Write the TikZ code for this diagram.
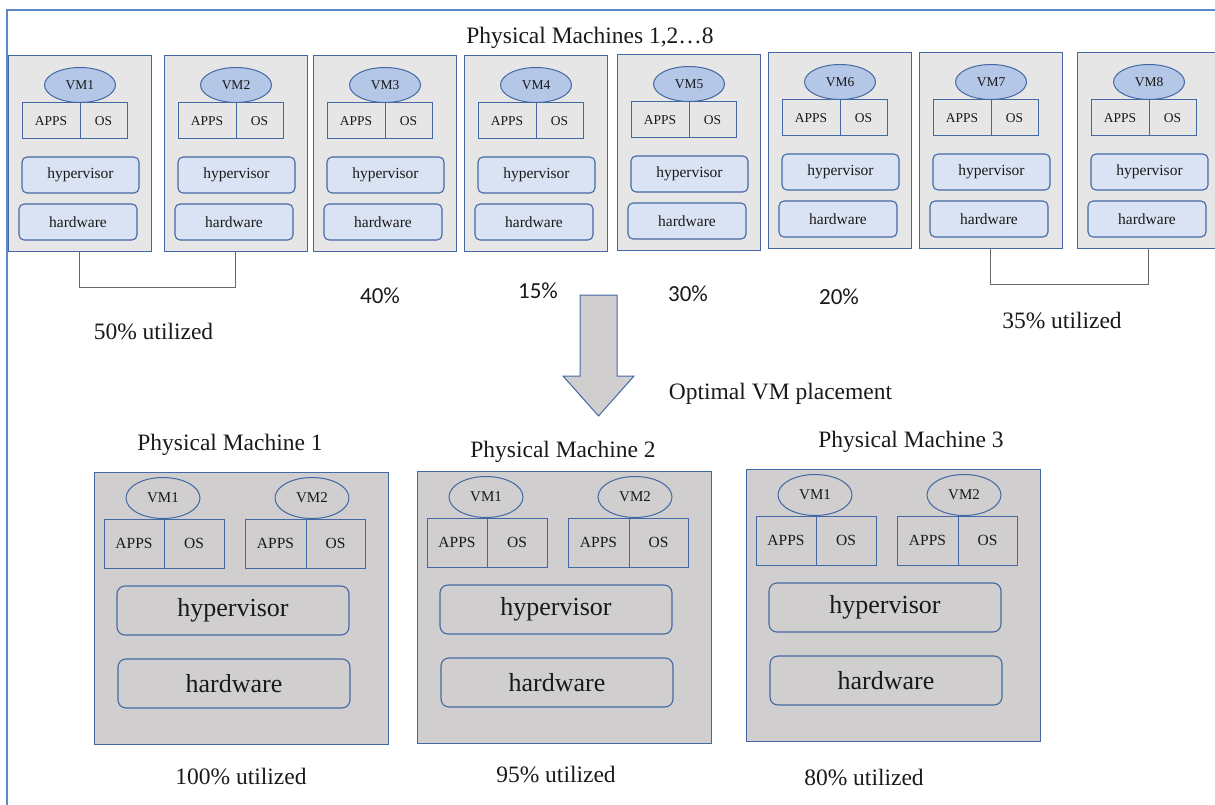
\documentclass[tikz,border=0pt]{standalone}
\usepackage{fontspec}
\setmainfont{Liberation Serif}
\newfontfamily\pctfont{Carlito}
\usetikzlibrary{calc,shapes.geometric}

\definecolor{frameblue}{RGB}{91,138,204}
\definecolor{edgeblue}{RGB}{68,104,164}
\definecolor{panelgray}{RGB}{231,230,230}
\definecolor{darkpanel}{RGB}{208,206,206}
\definecolor{layerfill}{RGB}{218,227,243}
\definecolor{vmfill}{RGB}{180,199,231}
\definecolor{linkgray}{RGB}{105,105,105}
\definecolor{inkblack}{RGB}{25,25,25}

\tikzset{
  every node/.style={inner sep=0pt, outer sep=0pt, text=inkblack},
  % small machines of the upper row
  toppanel/.style={draw=edgeblue, fill=panelgray, line width=1pt,
    minimum width=143pt, minimum height=195pt, anchor=north west},
  smallvm/.style={ellipse, draw=edgeblue, fill=vmfill, line width=1pt,
    minimum width=71pt, minimum height=35pt, font=\fontsize{13.5}{14}\selectfont},
  smallcell/.style={draw=edgeblue, fill=panelgray, line width=1pt,
    minimum height=36pt, font=\fontsize{13.5}{14}\selectfont},
  smalllayer/.style={draw=edgeblue, fill=layerfill, line width=1.1pt,
    rounded corners=5pt, minimum height=36pt, font=\fontsize{15.5}{16}\selectfont},
  % consolidated machines of the lower row
  bigpanel/.style={draw=edgeblue, fill=darkpanel, line width=1pt,
    minimum width=294pt, minimum height=272pt, anchor=north west},
  bigvm/.style={ellipse, draw=edgeblue, line width=1pt,
    minimum width=74pt, minimum height=41pt, font=\fontsize{15}{16}\selectfont},
  bigcell/.style={draw=edgeblue, line width=1pt,
    minimum height=49pt, font=\fontsize{15.5}{16}\selectfont},
  biglayer/.style={draw=edgeblue, line width=1.1pt, rounded corners=8pt,
    minimum width=232pt, minimum height=49pt, font=\fontsize{26}{28}\selectfont},
  caption/.style={font=\fontsize{23.5}{26}\selectfont},
  pct/.style={font=\pctfont\fontsize{23}{25}\selectfont},
  bracket/.style={draw=linkgray, line width=0.9pt},
  bigarrow/.style={draw=edgeblue, fill=darkpanel, line width=1pt, line join=miter},
  frame/.style={draw=frameblue, line width=2pt}
}

% one machine of the upper row: name, left, top, VM label
\newcommand\toppm[4]{%
  \begin{scope}[shift={(#2,#3)}]
    \node[toppanel] (#1) at (0,0) {};
    \node[smallcell, minimum width=58pt] (#1apps) at (43,65) {APPS};
    \node[smallcell, minimum width=47pt] (#1os) at (95.5,65) {OS};
    \node[smallvm] (#1vm) at (72,29) {#4};
    \node[smalllayer, minimum width=117pt] (#1hyp) at (72.5,119) {hypervisor};
    \node[smalllayer, minimum width=118pt] (#1hw) at (70,166) {hardware};
  \end{scope}}

% one machine of the lower row: name, left, top
\newcommand\bigpm[3]{%
  \begin{scope}[shift={(#2,#3)}]
    \node[bigpanel] (#1) at (0,0) {};
    \node[bigcell, minimum width=60pt] (#1appsA) at (40,71.5) {APPS};
    \node[bigcell, minimum width=60pt] (#1osA) at (100,71.5) {OS};
    \node[bigcell, minimum width=61pt] (#1appsB) at (181.5,71.5) {APPS};
    \node[bigcell, minimum width=59pt] (#1osB) at (241.5,71.5) {OS};
    \node[bigvm] (#1vmA) at (69,26) {VM1};
    \node[bigvm] (#1vmB) at (218,26) {VM2};
    \node[biglayer] (#1hyp) at (139,138.5) {hypervisor};
    \node[biglayer] (#1hw) at (140,211.5) {hardware};
  \end{scope}}

\begin{document}
\begin{tikzpicture}[x=1pt, y=-1pt]
  \useasboundingbox (0,0) rectangle (1215,805);
  \clip (0,0) rectangle (1215,805);

  % outer frame
  \draw[frame] (7,806) -- (7,10) -- (1216,10);

  % upper row
  \node[caption] (toptitle) at (590,38) {Physical Machines 1,2\ldots8};
  \toppm{pmA}{8}{56}{VM1}
  \toppm{pmB}{164}{56}{VM2}
  \toppm{pmC}{313}{56}{VM3}
  \toppm{pmD}{464}{56}{VM4}
  \toppm{pmE}{617}{55}{VM5}
  \toppm{pmF}{768}{53}{VM6}
  \toppm{pmG}{919}{53}{VM7}
  \toppm{pmH}{1077}{53}{VM8}

  % groupings and loads
  \draw[bracket] (pmA.south) -- ++(0,36) -| (pmB.south);
  \draw[bracket] (pmG.south) -- ++(0,36) -| (pmH.south);
  \node[caption] (loadAB) at (153.5,332) {50\% utilized};
  \node[caption] (loadGH) at (1062,321) {35\% utilized};
  \node[pct] (loadC) at (380,296) {40\%};
  \node[pct] (loadD) at (538,291) {15\%};
  \node[pct] (loadE) at (688,294) {30\%};
  \node[pct] (loadF) at (839,297) {20\%};

  % consolidation step
  \draw[bigarrow] (580,295) -- (617,295) -- (617,376) -- (634,376)
    -- (598.5,416) -- (563,376) -- (580,376) -- cycle;
  \node[caption] (steplabel) at (780.5,394) {Optimal VM placement};

  % lower row
  \node[caption] (titleA) at (230,445) {Physical Machine 1};
  \node[caption] (titleB) at (563,452) {Physical Machine 2};
  \node[caption] (titleC) at (911,442) {Physical Machine 3};
  \bigpm{bigA}{94}{472}
  \bigpm{bigB}{417}{471}
  \bigpm{bigC}{746}{469}
  \node[caption] (useA) at (241,776) {100\% utilized};
  \node[caption] (useB) at (556,774) {95\% utilized};
  \node[caption] (useC) at (864,777) {80\% utilized};
\end{tikzpicture}
\end{document}
